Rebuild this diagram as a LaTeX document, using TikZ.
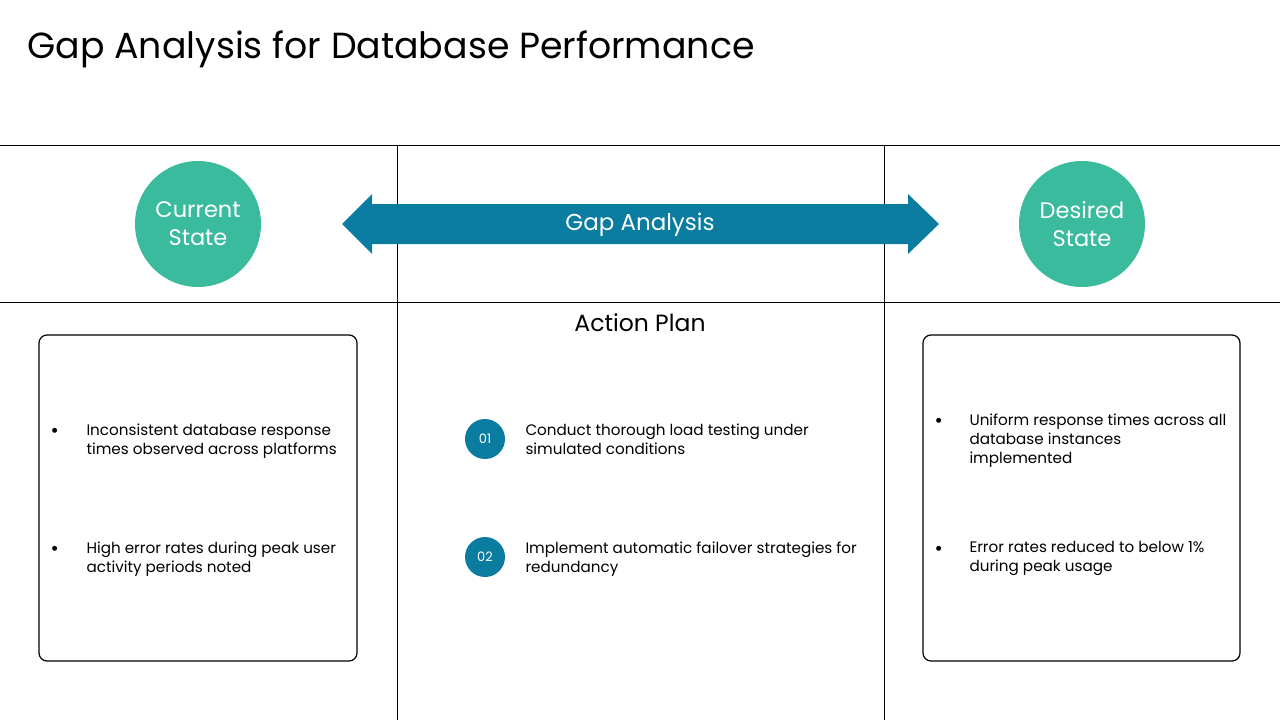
\documentclass[tikz,border=0pt]{standalone}
\usepackage{fontspec}
\setmainfont{Poppins}
\usepackage{tikz}
\usetikzlibrary{positioning}
\definecolor{verdegap}{RGB}{58,187,157}
\definecolor{azulgap}{RGB}{9,124,160}

\begin{document}
\begin{tikzpicture}[x=1pt, y=-1pt, line width=1pt,
      estado/.style={circle, fill=verdegap, minimum size=126pt, inner sep=0pt,
                     align=center, text=white, font=\fontsize{22.5}{28}\selectfont},
      passo/.style={circle, fill=azulgap, minimum size=40pt, inner sep=0pt,
                    text=white, font=\fontsize{13}{15}\selectfont},
      texto/.style={anchor=north west, inner sep=0pt, align=left,
                    font=\fontsize{15.2}{19}\selectfont},
      marca/.style={anchor=base west, inner sep=0pt, font=\fontsize{20}{19}\selectfont},
      caixa/.style={draw, rounded corners=8pt, line width=1.2pt}]
    \useasboundingbox (0,0) rectangle (1280,720);

    % --- titulo ---
    \node[anchor=base west, inner sep=0pt, font=\fontsize{36.3}{42}\selectfont]
         (titulo) at (27,58) {Gap Analysis for Database Performance};

    % --- grade ---
    \draw (0,145) -- (1280,145);
    \draw (0,302) -- (1280,302);
    \draw (397,145) -- (397,720);
    \draw (884,145) -- (884,720);

    % --- estados ---
    \node[estado] (atual)   at (198,224)  {Current\\State};
    \node[estado] (desejado) at (1082,224) {Desired\\State};

    % Seta dupla (gap)
    \fill[azulgap] (342,224) -- (372,194) -- (372,204) -- (908,204) -- (908,194)
                   -- (939,224) -- (908,254) -- (908,244) -- (372,244)
                   -- (372,254) -- cycle;
    \node[text=white, font=\fontsize{23}{27}\selectfont] (gap) at (640,225) {Gap Analysis};

    % --- plano de acao ---
    \node[font=\fontsize{23.5}{27}\selectfont] (plano) at (640,323) {Action Plan};
    \node[passo] (p1) at (485,439) {01};
    \node[passo] (p2) at (485,557) {02};
    \node[texto] (t1) at (525,423) {Conduct thorough load testing under\\simulated conditions};
    \node[texto] (t2) at (525,541) {Implement automatic failover strategies for\\redundancy};

    % --- caixa atual ---
    \draw[caixa] (39,335) rectangle (357,661);
    \node[marca] (b1) at (50,437) {\textbullet};
    \node[texto] (a1) at (86,423) {Inconsistent database response\\times observed across platforms};
    \node[marca] (b2) at (50,555) {\textbullet};
    \node[texto] (a2) at (86,541) {High error rates during peak user\\activity periods noted};

    % --- caixa desejada ---
    \draw[caixa] (923,335) rectangle (1240,661);
    \node[marca] (b3) at (934,427) {\textbullet};
    \node[texto] (d1) at (969,413) {Uniform response times across all\\database instances\\implemented};
    \node[marca] (b4) at (934,555) {\textbullet};
    \node[texto] (d2) at (969,541) {Error rates reduced to below 1\%\\during peak usage};
  \end{tikzpicture}
\end{document}
